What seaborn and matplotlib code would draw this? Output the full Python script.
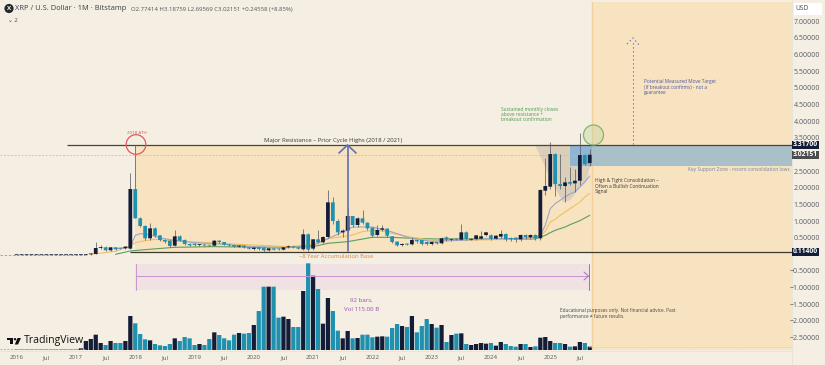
import numpy as np
import pandas as pd
import matplotlib
matplotlib.use('Agg')
import matplotlib.pyplot as plt
from matplotlib.patches import Circle, Polygon, Rectangle
import seaborn as sns

# monthly candles, index 0 = Jan 2016, one row per year
months = list(range(117))
opens = [.006,.006,.006,.006,.006,.006,.006,.006,.006,.006,.006,.006,
         .006,.007,.007,.03,.04,.22,.24,.15,.24,.22,.21,.2,
         1.99,1.11,.88,.51,.81,.6,.46,.44,.29,.57,.46,.34,
         .35,.31,.32,.3,.29,.44,.4,.32,.31,.26,.29,.24,
         .19,.24,.23,.15,.21,.2,.17,.24,.27,.24,.18,.63,
         .2,.48,.39,.55,1.59,1.03,.69,.74,1.18,.91,1.11,.98,
         .83,.61,.77,.8,.57,.41,.31,.35,.33,.46,.46,.4,
         .34,.4,.36,.54,.47,.5,.47,.69,.47,.49,.5,.61,
         .6,.5,.56,.64,.52,.53,.48,.61,.54,.61,.51,1.94,
         2.06,3.04,2.14,2.08,2.2,2.16,2.24,3.01,2.77]
closes = [.006,.006,.006,.006,.006,.006,.006,.006,.006,.006,.006,.006,
          .006,.007,.03,.05,.22,.24,.15,.24,.18,.2,.26,1.99,
          1.11,.88,.51,.81,.59,.46,.41,.28,.57,.44,.34,.3,
          .31,.32,.3,.29,.44,.4,.32,.3,.26,.29,.24,.2,
          .23,.19,.15,.21,.17,.18,.24,.27,.24,.2,.63,.17,
          .48,.39,.55,1.59,1.03,.69,.74,1.18,.91,1.11,.98,.81,
          .59,.76,.81,.59,.4,.3,.34,.32,.46,.42,.34,.34,
          .4,.36,.51,.47,.49,.47,.69,.49,.49,.6,.57,.69,
          .5,.59,.64,.48,.48,.47,.61,.54,.61,.5,1.96,2.08,
          3.04,2.14,2.08,2.19,2.15,2.24,3.01,2.74,3.02]
highs = [.006,.006,.006,.006,.006,.006,.006,.006,.006,.006,.006,.006,
         .007,.008,.04,.06,.41,.31,.27,.26,.25,.23,.28,2.48,
         3.31,1.15,.9,.96,.85,.62,.49,.46,.76,.6,.48,.36,
         .36,.34,.33,.31,.47,.46,.41,.33,.32,.31,.3,.25,
         .24,.25,.24,.22,.21,.21,.26,.3,.28,.26,.8,.66,
         .5,.75,.58,1.96,1.76,1.08,.8,1.41,1.18,1.15,1.36,1.0,
         .85,.91,.91,.83,.58,.43,.36,.37,.54,.47,.47,.42,
         .42,.4,.55,.58,.5,.53,.94,.72,.52,.62,.73,.7,
         .63,.62,.76,.67,.55,.55,.64,.63,.63,.63,1.98,2.91,
         3.41,3.06,3.04,2.36,2.66,2.6,3.68,3.05,3.18]
lows = [.005,.005,.005,.005,.005,.005,.005,.005,.005,.005,.005,.005,
        .005,.006,.006,.02,.03,.2,.13,.14,.16,.18,.19,.18,
        1.11,.85,.45,.47,.55,.43,.38,.26,.27,.42,.32,.28,
        .28,.29,.28,.27,.27,.38,.3,.28,.24,.24,.22,.18,
        .17,.17,.11,.14,.15,.16,.16,.22,.22,.18,.17,.14,
        .17,.36,.37,.52,.95,.62,.55,.7,.85,.85,.93,.77,
        .55,.58,.72,.55,.37,.28,.29,.3,.31,.38,.32,.32,
        .32,.34,.35,.44,.44,.45,.45,.45,.45,.46,.48,.58,
        .46,.48,.52,.44,.43,.41,.42,.49,.5,.47,.45,1.8,
        1.98,1.78,2.0,1.6,2.1,1.9,2.1,2.7,2.69]

volume = [1,1,1,1,1,1,1,1,1,1,1,1,
          1,5,27,33,46,21,15,27,21,21,27,102,
          80,48,32,29,18,14,12,18,35,27,39,35,
          15,18,15,33,53,45,35,29,46,51,49,51,
          75,117,190,190,190,97,100,93,69,69,177,260,
          223,183,79,156,117,58,35,57,35,36,46,46,
          38,40,41,40,66,78,72,69,102,53,72,93,
          78,67,75,24,45,49,50,18,15,18,21,19,
          21,13,24,18,12,10,18,18,9,11,37,39,
          27,21,21,18,10,11,24,21,10]

# moving averages, sampled months
ma_short_x = [20,23,24,25,27,29,32,36,42,48,54,58,60,63,66,68,72,76,80,84,90,96,102,105,106,107,108,109,110,111,112,113,114,115,116]
ma_short_y = [.2,.25,.6,.65,.62,.52,.45,.38,.33,.26,.22,.26,.3,.5,.7,.85,.85,.7,.5,.42,.45,.5,.5,.55,.6,.9,1.4,1.55,1.65,1.76,1.84,1.91,2.05,2.2,2.38]
ma_mid_x = [15,20,23,24,26,28,32,36,45,55,60,63,66,68,70,73,76,80,84,90,100,105,106,107,108,109,110,111,112,113,114,115,116]
ma_mid_y = [.03,.12,.28,.38,.44,.48,.43,.4,.33,.26,.33,.5,.56,.61,.71,.76,.66,.54,.45,.45,.48,.52,.6,.72,1.0,1.08,1.2,1.3,1.4,1.5,1.6,1.75,1.86]
ma_long_x = [20,23,26,32,40,50,60,63,67,72,76,80,85,100,105,106,107,108,109,110,111,112,113,114,115,116]
ma_long_y = [.03,.13,.17,.24,.26,.24,.26,.36,.41,.54,.54,.51,.49,.49,.49,.55,.6,.68,.75,.8,.85,.92,.98,1.04,1.12,1.2]

price_ticks = [7,6.5,6,5.5,5,4.5,4,3.5,2.5,2,1.5,1,.5,-.5,-1,-1.5,-2,-2.5]
year_ticks = [0,6,12,18,24,30,36,42,48,54,60,66,72,78,84,90,96,102,108,114]
year_labels = ['2016','Jul','2017','Jul','2018','Jul','2019','Jul','2020','Jul','2021','Jul','2022','Jul','2023','Jul','2024','Jul','2025','Jul']
resistance = 3.317
last_close = 3.02151
support = 0.114
zone_low = 2.68

BG = '#f5eee2'
SAND = '#f8e3c1'
TEAL = '#1f90ae'
DARK = '#131d38'
X0, DX = 16.7, 4.94

sns.set_theme(style='white')
plt.rcParams['font.family'] = ['Open Sans', 'DejaVu Sans']

W, H = 825, 365
fig = plt.figure(figsize=(W / 100, H / 100), dpi=100, facecolor=BG)
PANE_R, PANE_T, PANE_B = 792, 2, 350
ax = fig.add_axes([0, 1 - PANE_B / H, PANE_R / W, (PANE_B - PANE_T) / H])
ax.set_facecolor(BG)
ax.set_xlim((0 - X0) / DX, (PANE_R - X0) / DX)
ax.set_ylim((255.3 - PANE_B) / 33.3, (255.3 - PANE_T) / 33.3)
for s in ax.spines.values():
    s.set_visible(False)


def mx(px):
    return (px - X0) / DX


# zones
ax.add_patch(Rectangle((mx(135), support), mx(592) - mx(135), resistance - support, color=SAND, lw=0, zorder=1))
ax.axvspan(mx(592.5), mx(PANE_R), color=SAND, lw=0, zorder=1)
ax.axvline(mx(592), color='#f3cf9c', lw=1, zorder=1.1)
ax.add_patch(Polygon([(mx(535), 3.317), (mx(598), 3.317), (mx(590), 2.68), (mx(587), 2.3), (mx(570), 1.65),
                      (mx(563), 1.6), (mx(552), 2.2)], color='#dccfb9', lw=0, zorder=1.2))
ax.add_patch(Rectangle((mx(570), zone_low), mx(PANE_R) - mx(570), resistance - zone_low, color='#a9c0c9', lw=0, zorder=1.3))
ax.add_patch(Rectangle((mx(570), zone_low), mx(592) - mx(570), resistance - zone_low, color='#8fb5d2', lw=0, zorder=1.35))
ax.add_patch(Rectangle((mx(135), -1.03), mx(589) - mx(135), .78, color='#f0e1e2', lw=0, zorder=1))

# levels
ax.hlines(resistance, mx(67), mx(PANE_R), color='#47453f', lw=.9, zorder=3)
ax.hlines(support, mx(130), mx(PANE_R), color='#3c3a30', lw=.9, zorder=3)
ax.axhline(last_close, color='#c9b9a0', lw=.5, ls=(0, (3, 2)), zorder=1.5)
ax.hlines(.006, mx(0), mx(85), color='#b9995c', lw=.6, ls=(0, (3, 2)), zorder=2)

# moving averages
for xs, ys, col in [(ma_long_x, ma_long_y, '#5c9e5a'), (ma_mid_x, ma_mid_y, '#f0bf62'), (ma_short_x, ma_short_y, '#9ea6c4')]:
    sns.lineplot(x=xs, y=ys, color=col, lw=.8, ax=ax, zorder=4, errorbar=None)

# candles
candles = pd.DataFrame({'m': months, 'o': opens, 'h': highs, 'l': lows, 'c': closes})
candles['col'] = np.where(candles['c'] >= candles['o'], DARK, TEAL)
ax.vlines(candles['m'], candles['l'], candles['h'], color='#5b5f68', lw=.55, zorder=5)
bodies = ax.bar(candles['m'], (candles['c'] - candles['o']).abs().clip(lower=.025), bottom=candles[['o', 'c']].min(axis=1),
                width=.76, color=candles['col'], lw=0, zorder=6)
for b in bodies:
    b.set_snap(False)
ax.set_xlabel('')
ax.set_ylabel('')
ax.set_xticks([])
ax.set_yticks([])

# volume pane, coloured like the candles
vol = fig.add_axes(ax.get_position(), sharex=ax)
vol.patch.set_alpha(0)
vol_df = pd.DataFrame({'m': months, 'v': volume, 'col': candles['col']})
sns.barplot(data=vol_df, x='m', y='v', hue='col', palette={TEAL: TEAL, DARK: DARK}, native_scale=True, dodge=False,
            width=.86, legend=False, saturation=1, ax=vol)
for b in vol.patches:
    b.set_linewidth(0)
    b.set_snap(False)
vol.set_xlim(ax.get_xlim())
vol.set_ylim(0, (PANE_B - PANE_T) * 3)
vol.set_xlabel('')
vol.set_ylabel('')
vol.set_xticks([])
vol.set_yticks([])
for s in vol.spines.values():
    s.set_visible(False)

# overlay in picture pixels for annotations and the axis strips
ov = fig.add_axes([0, 0, 1, 1], zorder=10)
ov.set_xlim(0, W)
ov.set_ylim(H, 0)
ov.axis('off')
ov.patch.set_alpha(0)

ov.add_patch(Rectangle((PANE_R, 0), W - PANE_R, H, color=BG, lw=0))
ov.add_patch(Rectangle((0, PANE_B), W, H - PANE_B, color=BG, lw=0))
ov.plot([0, PANE_R], [350.5, 350.5], color='#e9e2d5', lw=.6)
ov.plot([PANE_R, PANE_R], [0, H], color='#e9e2d5', lw=.6)
ov.plot([0, 85], [349, 349], color='#8aa7a0', lw=.5, ls=(0, (3, 2)))
ov.plot([589, PANE_R], [347, 347], color='#e3c89b', lw=.6, ls=(0, (1, 1.5)))

for p in price_ticks:
    ov.text(820, 255.3 - 33.3 * p, f'{p:.5f}'.replace('-', '\u2212'), ha='right', va='center', fontsize=5, color='#555b66')
for m, lab in zip(year_ticks, year_labels):
    ov.text(X0 + DX * m, 357.5, lab, ha='center', va='center', fontsize=4.4, color='#555b66')

ov.add_patch(Rectangle((794, 3), 28, 12, color='white', lw=0))
ov.text(795.5, 9, 'USD', ha='left', va='center', fontsize=4.8, color='#444a55')
for val, col in [(resistance, DARK), (last_close, '#4c4c4c'), (support, DARK)]:
    yp = 255.3 - 33.3 * val
    ov.add_patch(Rectangle((792, yp - 4), 27, 8, color=col, lw=0, zorder=3))
    ov.text(805.5, yp, f'{val:.5f}', ha='center', va='center', fontsize=4.9, color='white', fontweight='bold', zorder=4)

# header
ov.add_patch(Circle((9, 8.5), 4.6, color='#26282e', lw=0))
ov.text(9, 8.5, 'X', ha='center', va='center', fontsize=4.5, color='white', fontweight='bold')
ov.text(15, 9, 'XRP / U.S. Dollar \u00b7 1M \u00b7 Bitstamp', ha='left', va='center', fontsize=5.45, color='#3b3f4a')
ov.text(131, 9, 'O2.77414 H3.18759 L2.69569 C3.02151 +0.24558 (+8.85%)', ha='left', va='center', fontsize=4.3, color='#50555f')
ov.text(8, 21, '\u2304 2', ha='left', va='center', fontsize=4.2, color='#444')

# circles
ov.add_patch(Circle((136, 144.5), 9.8, fc='none', ec='#dd5a5f', lw=.9))
ov.text(137, 133, '2018 ATH', ha='center', va='center', fontsize=3.2, color='#d9534f')
ov.add_patch(Circle((593.5, 135), 10, fc='#bfd6a066', ec='#86b46a', lw=.9))

# big arrow
ov.plot([347.5, 347.5], [251, 146], color='#5f71ad', lw=1.2)
ov.plot([339, 347.5, 356], [153, 145, 153], color='#5f71ad', lw=1.2)

# date range
ov.plot([135.5, 589], [276, 276], color='#c596cf', lw=.7)
ov.plot([135.5, 135.5], [264, 290], color='#c596cf', lw=.7)
ov.plot([589, 589], [264, 290], color='#a66fb8', lw=.7)
ov.plot([584, 588.5, 584], [272, 276, 280], color='#a66fb8', lw=.7)

# dotted target arrow
ov.plot([633, 633], [144, 40], color='#4d58a0', lw=.8, ls=(0, (1, 2.6)))
ov.plot([627, 633, 640], [44, 38, 46], color='#4d58a0', lw=.8, ls=(0, (1, 2.6)))

# TradingView logo
ov.add_patch(Rectangle((7, 338), 6.2, 2.2, color='#111', lw=0))
ov.add_patch(Rectangle((10, 338), 3.2, 6.4, color='#111', lw=0))
ov.add_patch(Circle((15, 339.2), 1.2, color='#111', lw=0))
ov.add_patch(Polygon([(17.5, 338), (21, 338), (18, 344.5), (14.8, 344.5)], color='#111', lw=0))
ov.text(24, 341, 'TradingView', ha='left', va='center', fontsize=7.6, color='#111', fontweight='medium')

# notes
notes = [
    (333, 140.5, 'Major Resistance \u2013 Prior Cycle Highs (2018 / 2021)', 'center', 4.3, '#3a3a36'),
    (336, 256, '~8 Year Accumulation Base', 'center', 4.2, '#e5842e'),
    (361, 300, '92 bars,', 'center', 4.4, '#9a4fb0'),
    (362, 309.5, 'Vol 115.00 B', 'center', 4.4, '#9a4fb0'),
    (560, 313.5, 'Educational purposes only. Not financial advice. Past\nperformance \u2260 future results.', 'left', 3.4, '#45454a'),
    (501, 114.5, 'Sustained monthly closes\nabove resistance +\nbreakout confirmation', 'left', 3.5, '#4d9a50'),
    (595, 186, 'High & Tight Consolidation \u2013\nOften a Bullish Continuation\nSignal', 'left', 3.5, '#3a3a36'),
    (644, 87, 'Potential Measured Move Target\n(If breakout confirms) - not a\nguarantee', 'left', 3.4, '#4d58a0'),
    (790, 169.5, 'Key Support Zone - recent consolidation lows', 'right', 3.5, '#6f86a0'),
]
for x, y, txt, ha, fs, col in notes:
    ov.text(x, y, txt, ha=ha, va='center', fontsize=fs, color=col, linespacing=1.05)

fig.savefig('out.png', dpi=100, facecolor=BG)
